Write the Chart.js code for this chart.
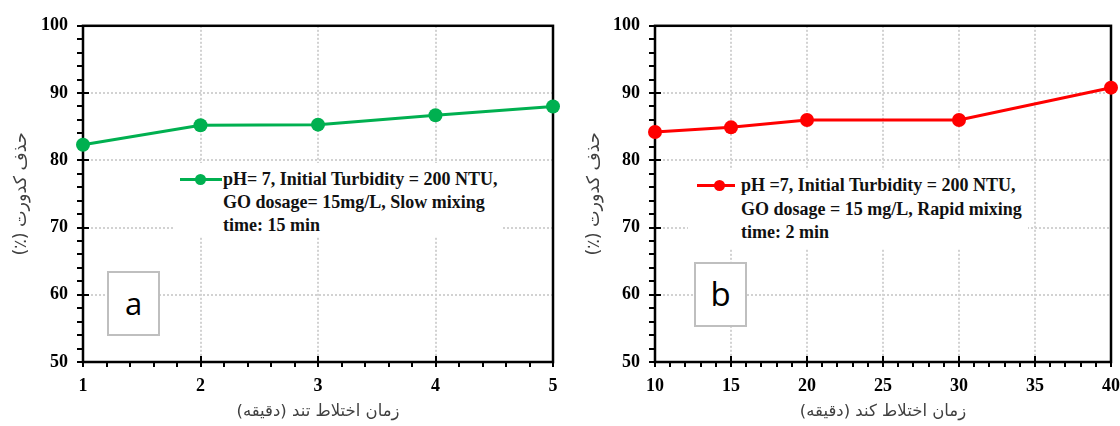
<!DOCTYPE html>
<html>
<head>
<meta charset="utf-8">
<script src="https://cdn.jsdelivr.net/npm/chart.js@4.4.1/dist/chart.umd.min.js"></script>
<style>
  html, body { margin: 0; padding: 0; background: #fff; }
  body { width: 1120px; height: 426px; position: relative; overflow: hidden; }
  .panel { position: absolute; top: 0; height: 426px; }
  .legend { position: absolute; background: #fff; }
  .legend .line { position: absolute; height: 3px; }
  .legend .dot { position: absolute; width: 11px; height: 11px; border-radius: 50%; }
  .legend .text { position: absolute; white-space: nowrap; font: bold 18px 'Liberation Serif', 'Times New Roman', serif; color: #111; }
  .tag { position: absolute; box-sizing: border-box; border: 2px solid #bfbfbf; background: #fff;
         font-family: 'Open Sans', sans-serif; color: #000; text-align: center; }
</style>
</head>
<body>
<div class="panel" style="left:0;width:565px"><canvas id="chart-a" width="565" height="426"></canvas></div>
<div class="panel" style="left:570px;width:550px"><canvas id="chart-b" width="550" height="426"></canvas></div>

<div class="legend" style="left:173px;top:163px;width:330px;height:74px">
  <div class="line" style="left:7px;top:14.5px;width:42px;background:#00b050"></div>
  <div class="dot" style="left:21.5px;top:10.5px;background:#00b050"></div>
  <div class="text" style="left:50px;top:4.5px;line-height:23px">pH= 7, Initial Turbidity = 200 NTU,<br>GO dosage= 15mg/L, Slow mixing<br>time: 15 min</div>
</div>
<div class="legend" style="left:688px;top:170px;width:340px;height:78px">
  <div class="line" style="left:9px;top:14.2px;width:38px;background:#ff0000"></div>
  <div class="dot" style="left:25.5px;top:10.2px;background:#ff0000"></div>
  <div class="text" style="left:53px;top:4px;line-height:23.5px">pH =7, Initial Turbidity = 200 NTU,<br>GO dosage = 15 mg/L, Rapid mixing<br>time: 2 min</div>
</div>

<div class="tag" style="left:107px;top:271px;width:53px;height:65px;font-size:31px;line-height:60px">a</div>
<div class="tag" style="left:694px;top:262px;width:53px;height:65px;font-size:33px;line-height:60px">b</div>

<script>
// turbidity removal vs. mixing time
const rapidTimes = [1, 2, 3, 4, 5];
const rapidRemoval = [82.3, 85.2, 85.3, 86.7, 88.0];
const slowTimes = [10, 15, 20, 30, 40];
const slowRemoval = [84.2, 84.9, 86.0, 86.0, 90.8];

const yTitle = 'حذف کدورت (٪)';
const xTitleA = 'زمان اختلاط تند (دقیقه)';
const xTitleB = 'زمان اختلاط کند (دقیقه)';

// keep persian titles in right-to-left order on the canvas
const rtl = s => '\u202B' + s + '\u202C';

const tickFont = { family: "'Liberation Serif', 'Times New Roman', serif", size: 18, weight: 'bold' };
const xTitleFont = { family: "'DejaVu Sans', sans-serif", size: 16.5 };
const yTitleFont = { family: "'DejaVu Sans', sans-serif", size: 17.5 };

// box around the plot plus major/minor tick marks on the left and bottom axes
const axisFrame = {
    id: 'axisFrame',
    beforeDatasetsDraw(chart, args, opts) {
        const { ctx, chartArea: a, scales: { x, y } } = chart;
        ctx.save();
        ctx.strokeStyle = '#000';
        ctx.lineWidth = 2;
        ctx.beginPath();
        const ny = Math.round((y.max - y.min) / opts.yMinor);
        for (let i = 0; i <= ny; i++) {
            const v = y.min + i * opts.yMinor;
            const py = Math.round(y.getPixelForValue(v));
            const major = Math.abs(v / opts.yMajor - Math.round(v / opts.yMajor)) < 1e-6;
            ctx.moveTo(a.left - 6, py);
            ctx.lineTo(major ? a.left + 6 : a.left, py);
        }
        const nx = Math.round((x.max - x.min) / opts.xMinor);
        for (let i = 0; i <= nx; i++) {
            const v = x.min + i * opts.xMinor;
            const px = Math.round(x.getPixelForValue(v));
            const major = Math.abs(v / opts.xMajor - Math.round(v / opts.xMajor)) < 1e-6;
            ctx.moveTo(px, a.bottom + 5);
            ctx.lineTo(px, major ? a.bottom - 6 : a.bottom);
        }
        ctx.stroke();
        ctx.lineWidth = 2.5;
        ctx.strokeRect(a.left, a.top, a.width, a.height);
        ctx.restore();
    }
};

function makeChart(id, xs, ys, color, xRange, minor, xTitle, box) {
    const points = xs.map((t, i) => ({ x: t, y: ys[i] }));
    return new Chart(document.getElementById(id), {
        type: 'line',
        data: {
            datasets: [{
                data: points,
                borderColor: color,
                backgroundColor: color,
                borderWidth: 3,
                pointRadius: 7,
                pointHoverRadius: 7,
                pointBorderWidth: 0,
                tension: 0,
                clip: false
            }]
        },
        options: {
            responsive: false,
            animation: false,
            layout: { padding: { top: box.top, right: box.right, left: 0, bottom: 0 } },
            plugins: {
                legend: { display: false },
                tooltip: { enabled: false },
                axisFrame: { xMinor: minor, xMajor: xRange.step, yMinor: 2, yMajor: 10 }
            },
            scales: {
                x: {
                    type: 'linear',
                    min: xRange.min,
                    max: xRange.max,
                    // fixed height; end labels may overhang the plot edge
                    afterFit: s => { s.height = 64; s.paddingLeft = 0; s.paddingRight = 0; },
                    ticks: { stepSize: xRange.step, font: tickFont, color: '#000', padding: 14, maxRotation: 0 },
                    grid: { color: '#d2d2d2', lineWidth: 2, drawTicks: false },
                    border: { display: false, dash: [2, 2] },
                    title: { display: true, text: rtl(xTitle), font: xTitleFont, color: '#404040', padding: { bottom: 4 } }
                },
                y: {
                    min: 50,
                    max: 100,
                    afterFit: s => { s.width = box.left; },
                    ticks: { stepSize: 10, font: tickFont, color: '#000', padding: 15 },
                    grid: { color: '#d2d2d2', lineWidth: 2, drawTicks: false },
                    border: { display: false, dash: [2, 2] },
                    title: { display: true, text: rtl(yTitle), font: yTitleFont, color: '#404040', padding: { top: box.titleGap } }
                }
            }
        },
        plugins: [axisFrame]
    });
}

makeChart('chart-a', rapidTimes, rapidRemoval, '#00b050', { min: 1, max: 5, step: 1 }, 0.2, xTitleA,
    { top: 22, right: 12, left: 83, titleGap: 11 });
makeChart('chart-b', slowTimes, slowRemoval, '#ff0000', { min: 10, max: 40, step: 5 }, 1, xTitleB,
    { top: 20.5, right: 9, left: 85, titleGap: 14 });
</script>
</body>
</html>
